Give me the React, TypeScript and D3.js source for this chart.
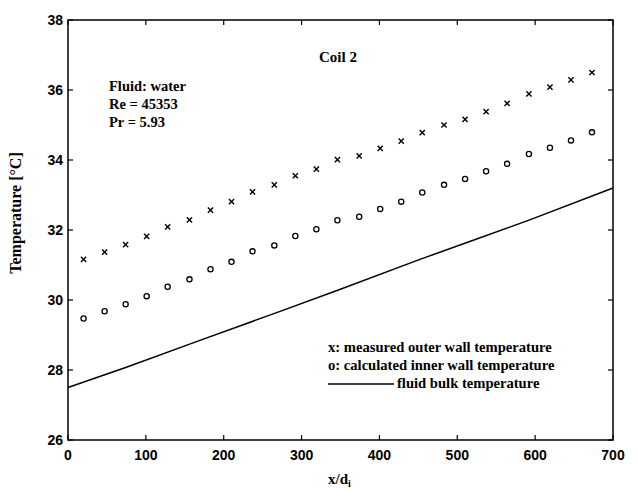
import React from "react";
import * as d3 from "d3";

const xPositions = [20, 47, 74, 101, 128, 156, 183, 210, 237, 265, 292, 319, 346, 374, 401, 428, 455, 483, 510, 537, 564, 592, 619, 646, 673];
const outerWall = [31.16, 31.37, 31.58, 31.82, 32.09, 32.29, 32.57, 32.81, 33.09, 33.29, 33.55, 33.74, 34.01, 34.12, 34.33, 34.54, 34.78, 35.0, 35.16, 35.38, 35.62, 35.89, 36.08, 36.29, 36.5];
const innerWall = [29.47, 29.68, 29.88, 30.11, 30.38, 30.59, 30.88, 31.09, 31.39, 31.56, 31.83, 32.02, 32.28, 32.38, 32.6, 32.81, 33.07, 33.29, 33.46, 33.68, 33.89, 34.17, 34.35, 34.56, 34.79];
const bulkX = [0, 75, 165, 268, 349, 452, 516, 593, 700];
const bulkY = [27.5, 28.08, 28.81, 29.64, 30.3, 31.16, 31.67, 32.29, 33.2];
const xTicks = [0, 100, 200, 300, 400, 500, 600, 700];
const yTicks = [26, 28, 30, 32, 34, 36, 38];
const infoLines = ["Fluid: water", "Re = 45353", "Pr = 5.93"];
const legendLines = ["x: measured outer wall temperature", "o: calculated inner wall temperature", "fluid bulk temperature"];

const W = 638, H = 490;
const L = 68, R = 613, T = 20, B = 440;
const serif = "'Liberation Serif', 'Times New Roman', serif";
const sans = "'Liberation Sans', Arial, sans-serif";

export default function App() {
  const x = d3.scaleLinear().domain([0, 700]).range([L, R]);
  const y = d3.scaleLinear().domain([26, 38]).range([B, T]);
  const line = d3.line<number>().x((_, i) => x(bulkX[i])).y((d) => y(d));
  const tl = 5;
  return (
    <svg width={W} height={H} style={{ position: "absolute", left: 0, top: 0, background: "#fff" }}>
      <rect x={0} y={0} width={W} height={H} fill="#fff" />
      {xTicks.map((t) => (
        <g key={"xt" + t}>
          <line x1={x(t)} x2={x(t)} y1={B} y2={B - tl} stroke="#000" strokeWidth={1.2} />
          <line x1={x(t)} x2={x(t)} y1={T} y2={T + tl} stroke="#000" strokeWidth={1.2} />
          <text x={x(t)} y={460} textAnchor="middle" fontFamily={sans} fontWeight="bold" fontSize={14}>{t}</text>
        </g>
      ))}
      {yTicks.map((t) => (
        <g key={"yt" + t}>
          <line x1={L} x2={L + tl} y1={y(t)} y2={y(t)} stroke="#000" strokeWidth={1.2} />
          <line x1={R} x2={R - tl} y1={y(t)} y2={y(t)} stroke="#000" strokeWidth={1.2} />
          <text x={63} y={y(t) + 5} textAnchor="end" fontFamily={sans} fontWeight="bold" fontSize={14}>{t}</text>
        </g>
      ))}
      <rect x={L} y={T} width={R - L} height={B - T} fill="none" stroke="#000" strokeWidth={1.5} />
      <path d={line(bulkY) || ""} fill="none" stroke="#000" strokeWidth={1.5} />
      {outerWall.map((v, i) => {
        const cx = x(xPositions[i]), cy = y(v), s = 2.6;
        return (
          <path key={"c" + i} d={`M${cx - s},${cy - s}L${cx + s},${cy + s}M${cx - s},${cy + s}L${cx + s},${cy - s}`} stroke="#000" strokeWidth={1.4} />
        );
      })}
      {innerWall.map((v, i) => (
        <circle key={"o" + i} cx={x(xPositions[i])} cy={y(v)} r={2.6} fill="none" stroke="#000" strokeWidth={1.3} />
      ))}
      <text x={338} y={62} textAnchor="middle" fontFamily={serif} fontWeight="bold" fontSize={15}>Coil 2</text>
      {infoLines.map((s, i) => (
        <text key={s} x={109} y={91 + i * 18} fontFamily={serif} fontWeight="bold" fontSize={14.5}>{s}</text>
      ))}
      <text x={328} y={352} fontFamily={serif} fontWeight="bold" fontSize={14.6}>{legendLines[0]}</text>
      <text x={328} y={370} fontFamily={serif} fontWeight="bold" fontSize={14.6}>{legendLines[1]}</text>
      <line x1={328} x2={394} y1={384} y2={384} stroke="#000" strokeWidth={1.5} />
      <text x={397} y={388} fontFamily={serif} fontWeight="bold" fontSize={14.6}>{legendLines[2]}</text>
      <text transform={`translate(21,${213}) rotate(-90)`} textAnchor="middle" fontFamily={serif} fontWeight="bold" fontSize={16}>Temperature [°C]</text>
      <text x={328} y={484} fontFamily={serif} fontWeight="bold" fontSize={15}>
        x/d<tspan fontSize={10} dy={3}>i</tspan>
      </text>
    </svg>
  );
}
